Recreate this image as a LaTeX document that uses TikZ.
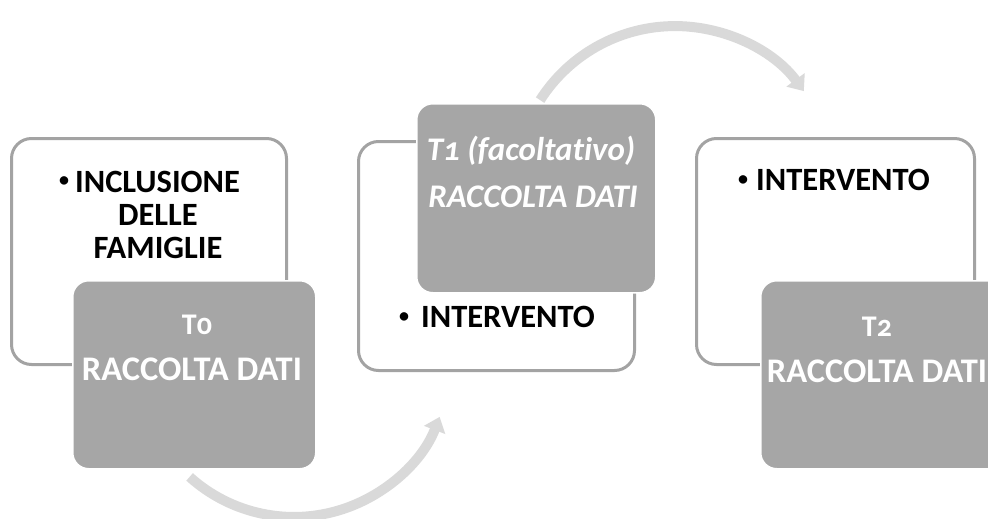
\documentclass[tikz,border=0pt]{standalone}
\usepackage{fontspec}
\setmainfont{Carlito}[Ligatures=NoCommon]
\newfontfamily\osf{Carlito}[Numbers=OldStyle,Ligatures=NoCommon]
\usetikzlibrary{arrows.meta}
\definecolor{boxgray}{RGB}{166,166,166}
\definecolor{edgegray}{RGB}{163,163,163}
\definecolor{arcgray}{RGB}{217,217,217}
\tikzset{
  whitebox/.style={draw=edgegray, line width=3pt, fill=white, rounded corners=20pt, inner sep=0pt},
  graybox/.style={draw=white, line width=1.5pt, fill=boxgray, rounded corners=16pt, inner sep=0pt},
  cyclearrow/.style={draw=arcgray, line width=10pt, -{Triangle[width=22pt,length=14pt]}},
  blk/.style={font=\fontsize{32.5}{34}\selectfont\bfseries, text=black, inner sep=0pt},
  bul/.style={font=\fontsize{20}{22}\selectfont\bfseries, text=black, inner sep=0pt, anchor=center},
  wht/.style={font=\fontsize{34.5}{36}\selectfont\bfseries, text=white, inner sep=0pt, anchor=base},
  whtsmall/.style={font=\fontsize{30}{32}\selectfont\bfseries, text=white, inner sep=0pt, anchor=base},
  whtit/.style={font=\fontsize{33}{35}\selectfont\bfseries\itshape, text=white, inner sep=0pt, anchor=base},
}
\begin{document}
\begin{tikzpicture}[x=1pt, y=-1pt]
\useasboundingbox (0,0) rectangle (988,519);
\begin{scope}
\clip (0,0) rectangle (988,519);
% cycle arrows (behind the boxes)
\coordinate (a1s) at (189.6,476.9);
\coordinate (a2s) at (540.1,100.1);
\draw[cyclearrow] (a1s) arc[start angle=132, end angle=21, radius=156];
\draw[cyclearrow] (a2s) arc[start angle=212.5, end angle=323.6, radius=160];
% step 1
\node[whitebox, anchor=north west, minimum width=275pt, minimum height=226pt] (w1) at (10,137) {};
\node[graybox, anchor=north west, minimum width=243pt, minimum height=188pt] (g1) at (72,280) {};
% step 2
\node[whitebox, anchor=north west, minimum width=276pt, minimum height=229pt] (w2) at (357,140) {};
\node[graybox, anchor=north west, minimum width=239pt, minimum height=189pt] (g2) at (416,103) {};
% step 3
\node[whitebox, anchor=north west, minimum width=278pt, minimum height=226pt] (w3) at (695,137) {};
\node[graybox, anchor=north west, minimum width=243pt, minimum height=188pt] (g3) at (760,280) {};
% texts step 1
\node[bul] (b1) at (64,182) {\textbullet};
\node[blk, anchor=base west] (l1a) at (75,192) {INCLUSIONE};
\node[blk, anchor=base] (l1b) at (158,225) {DELLE};
\node[blk, anchor=base] (l1c) at (158,258) {FAMIGLIE};
\node[whtsmall] (g1t) at (197,334) {T{\osf 0}};
\node[wht] (g1r) at (192,380) {RACCOLTA DATI};
% texts step 2
\node[whtit] (g2t) at (531,160) {T{\osf 1} (facoltativo)};
\node[whtit] (g2r) at (533,207) {RACCOLTA DATI};
\node[bul] (b2) at (404,318) {\textbullet};
\node[blk, anchor=base west] (l2) at (421,327) {INTERVENTO};
% texts step 3
\node[bul] (b3) at (743,181) {\textbullet};
\node[blk, anchor=base west] (l3) at (756,190) {INTERVENTO};
\node[whtsmall] (g3t) at (877,336) {T{\osf 2}};
\node[wht] (g3r) at (877,382) {RACCOLTA DATI};
\end{scope}
\end{tikzpicture}
\end{document}
